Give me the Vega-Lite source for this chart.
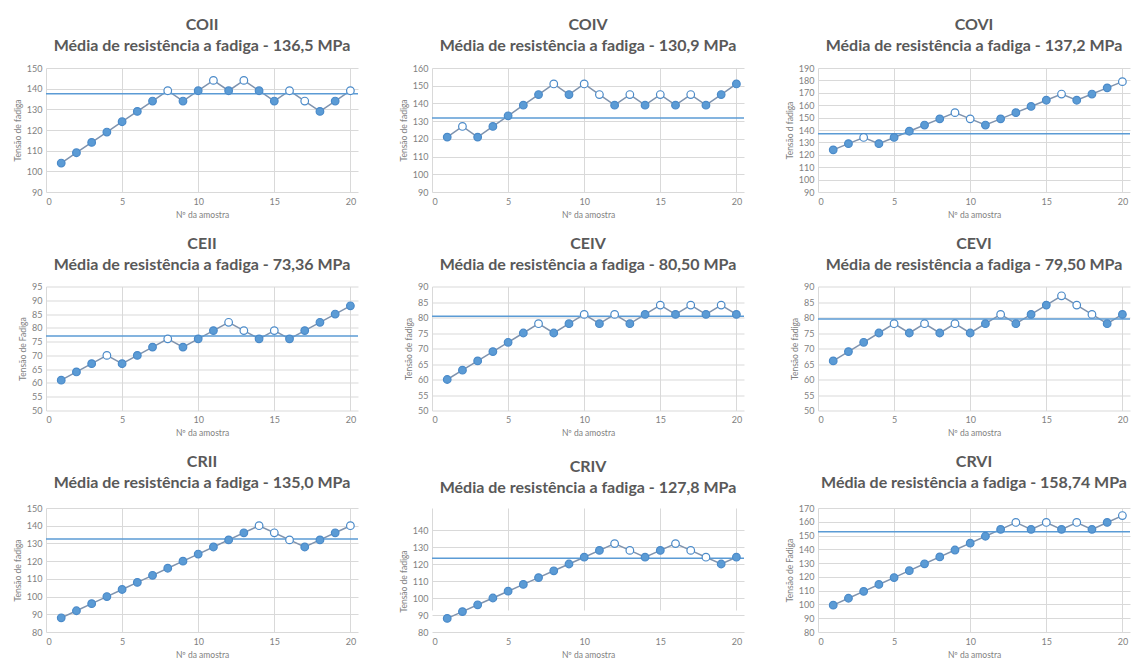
{
"$schema":"https://vega.github.io/schema/vega-lite/v6.json",
"padding":{"top":17,"left":13,"right":0,"bottom":0},
"background":"#ffffff",
"columns":3,
"spacing":{"row":16.5,"column":40},
"datasets":{
"means":[{"p":"COII","m":137.5},{"p":"COIV","m":131.8},{"p":"COVI","m":136.9},{"p":"CEII","m":77},{"p":"CEIV","m":80.4},{"p":"CEVI","m":79.5},{"p":"CRII","m":132.5},{"p":"CRIV","m":123.4},{"p":"CRVI","m":152.7}],
"pts":[
{"p":"COII","n":1,"v":104,"s":"cheio"},{"p":"COII","n":2,"v":109,"s":"cheio"},{"p":"COII","n":3,"v":114,"s":"cheio"},{"p":"COII","n":4,"v":119,"s":"cheio"},{"p":"COII","n":5,"v":124,"s":"cheio"},{"p":"COII","n":6,"v":129,"s":"cheio"},{"p":"COII","n":7,"v":134,"s":"cheio"},{"p":"COII","n":8,"v":139,"s":"vazio"},{"p":"COII","n":9,"v":134,"s":"cheio"},{"p":"COII","n":10,"v":139,"s":"cheio"},{"p":"COII","n":11,"v":144,"s":"vazio"},{"p":"COII","n":12,"v":139,"s":"cheio"},{"p":"COII","n":13,"v":144,"s":"vazio"},{"p":"COII","n":14,"v":139,"s":"cheio"},{"p":"COII","n":15,"v":134,"s":"cheio"},{"p":"COII","n":16,"v":139,"s":"vazio"},{"p":"COII","n":17,"v":134,"s":"vazio"},{"p":"COII","n":18,"v":129,"s":"cheio"},{"p":"COII","n":19,"v":134,"s":"cheio"},{"p":"COII","n":20,"v":139,"s":"vazio"},
{"p":"COIV","n":1,"v":121,"s":"cheio"},{"p":"COIV","n":2,"v":127,"s":"vazio"},{"p":"COIV","n":3,"v":121,"s":"cheio"},{"p":"COIV","n":4,"v":127,"s":"cheio"},{"p":"COIV","n":5,"v":133,"s":"cheio"},{"p":"COIV","n":6,"v":139,"s":"cheio"},{"p":"COIV","n":7,"v":145,"s":"cheio"},{"p":"COIV","n":8,"v":151,"s":"vazio"},{"p":"COIV","n":9,"v":145,"s":"cheio"},{"p":"COIV","n":10,"v":151,"s":"vazio"},{"p":"COIV","n":11,"v":145,"s":"vazio"},{"p":"COIV","n":12,"v":139,"s":"cheio"},{"p":"COIV","n":13,"v":145,"s":"vazio"},{"p":"COIV","n":14,"v":139,"s":"cheio"},{"p":"COIV","n":15,"v":145,"s":"vazio"},{"p":"COIV","n":16,"v":139,"s":"cheio"},{"p":"COIV","n":17,"v":145,"s":"vazio"},{"p":"COIV","n":18,"v":139,"s":"cheio"},{"p":"COIV","n":19,"v":145,"s":"cheio"},{"p":"COIV","n":20,"v":151,"s":"cheio"},
{"p":"COVI","n":1,"v":124,"s":"cheio"},{"p":"COVI","n":2,"v":129,"s":"cheio"},{"p":"COVI","n":3,"v":134,"s":"vazio"},{"p":"COVI","n":4,"v":129,"s":"cheio"},{"p":"COVI","n":5,"v":134,"s":"cheio"},{"p":"COVI","n":6,"v":139,"s":"cheio"},{"p":"COVI","n":7,"v":144,"s":"cheio"},{"p":"COVI","n":8,"v":149,"s":"cheio"},{"p":"COVI","n":9,"v":154,"s":"vazio"},{"p":"COVI","n":10,"v":149,"s":"vazio"},{"p":"COVI","n":11,"v":144,"s":"cheio"},{"p":"COVI","n":12,"v":149,"s":"cheio"},{"p":"COVI","n":13,"v":154,"s":"cheio"},{"p":"COVI","n":14,"v":159,"s":"cheio"},{"p":"COVI","n":15,"v":164,"s":"cheio"},{"p":"COVI","n":16,"v":169,"s":"vazio"},{"p":"COVI","n":17,"v":164,"s":"cheio"},{"p":"COVI","n":18,"v":169,"s":"cheio"},{"p":"COVI","n":19,"v":174,"s":"cheio"},{"p":"COVI","n":20,"v":179,"s":"vazio"},
{"p":"CEII","n":1,"v":61,"s":"cheio"},{"p":"CEII","n":2,"v":64,"s":"cheio"},{"p":"CEII","n":3,"v":67,"s":"cheio"},{"p":"CEII","n":4,"v":70,"s":"vazio"},{"p":"CEII","n":5,"v":67,"s":"cheio"},{"p":"CEII","n":6,"v":70,"s":"cheio"},{"p":"CEII","n":7,"v":73,"s":"cheio"},{"p":"CEII","n":8,"v":76,"s":"vazio"},{"p":"CEII","n":9,"v":73,"s":"cheio"},{"p":"CEII","n":10,"v":76,"s":"cheio"},{"p":"CEII","n":11,"v":79,"s":"cheio"},{"p":"CEII","n":12,"v":82,"s":"vazio"},{"p":"CEII","n":13,"v":79,"s":"vazio"},{"p":"CEII","n":14,"v":76,"s":"cheio"},{"p":"CEII","n":15,"v":79,"s":"vazio"},{"p":"CEII","n":16,"v":76,"s":"cheio"},{"p":"CEII","n":17,"v":79,"s":"cheio"},{"p":"CEII","n":18,"v":82,"s":"cheio"},{"p":"CEII","n":19,"v":85,"s":"cheio"},{"p":"CEII","n":20,"v":88,"s":"cheio"},
{"p":"CEIV","n":1,"v":60,"s":"cheio"},{"p":"CEIV","n":2,"v":63,"s":"cheio"},{"p":"CEIV","n":3,"v":66,"s":"cheio"},{"p":"CEIV","n":4,"v":69,"s":"cheio"},{"p":"CEIV","n":5,"v":72,"s":"cheio"},{"p":"CEIV","n":6,"v":75,"s":"cheio"},{"p":"CEIV","n":7,"v":78,"s":"vazio"},{"p":"CEIV","n":8,"v":75,"s":"cheio"},{"p":"CEIV","n":9,"v":78,"s":"cheio"},{"p":"CEIV","n":10,"v":81,"s":"vazio"},{"p":"CEIV","n":11,"v":78,"s":"cheio"},{"p":"CEIV","n":12,"v":81,"s":"vazio"},{"p":"CEIV","n":13,"v":78,"s":"cheio"},{"p":"CEIV","n":14,"v":81,"s":"cheio"},{"p":"CEIV","n":15,"v":84,"s":"vazio"},{"p":"CEIV","n":16,"v":81,"s":"cheio"},{"p":"CEIV","n":17,"v":84,"s":"vazio"},{"p":"CEIV","n":18,"v":81,"s":"cheio"},{"p":"CEIV","n":19,"v":84,"s":"vazio"},{"p":"CEIV","n":20,"v":81,"s":"cheio"},
{"p":"CEVI","n":1,"v":66,"s":"cheio"},{"p":"CEVI","n":2,"v":69,"s":"cheio"},{"p":"CEVI","n":3,"v":72,"s":"cheio"},{"p":"CEVI","n":4,"v":75,"s":"cheio"},{"p":"CEVI","n":5,"v":78,"s":"vazio"},{"p":"CEVI","n":6,"v":75,"s":"cheio"},{"p":"CEVI","n":7,"v":78,"s":"vazio"},{"p":"CEVI","n":8,"v":75,"s":"cheio"},{"p":"CEVI","n":9,"v":78,"s":"vazio"},{"p":"CEVI","n":10,"v":75,"s":"cheio"},{"p":"CEVI","n":11,"v":78,"s":"cheio"},{"p":"CEVI","n":12,"v":81,"s":"vazio"},{"p":"CEVI","n":13,"v":78,"s":"cheio"},{"p":"CEVI","n":14,"v":81,"s":"cheio"},{"p":"CEVI","n":15,"v":84,"s":"cheio"},{"p":"CEVI","n":16,"v":87,"s":"vazio"},{"p":"CEVI","n":17,"v":84,"s":"vazio"},{"p":"CEVI","n":18,"v":81,"s":"vazio"},{"p":"CEVI","n":19,"v":78,"s":"cheio"},{"p":"CEVI","n":20,"v":81,"s":"cheio"},
{"p":"CRII","n":1,"v":88,"s":"cheio"},{"p":"CRII","n":2,"v":92,"s":"cheio"},{"p":"CRII","n":3,"v":96,"s":"cheio"},{"p":"CRII","n":4,"v":100,"s":"cheio"},{"p":"CRII","n":5,"v":104,"s":"cheio"},{"p":"CRII","n":6,"v":108,"s":"cheio"},{"p":"CRII","n":7,"v":112,"s":"cheio"},{"p":"CRII","n":8,"v":116,"s":"cheio"},{"p":"CRII","n":9,"v":120,"s":"cheio"},{"p":"CRII","n":10,"v":124,"s":"cheio"},{"p":"CRII","n":11,"v":128,"s":"cheio"},{"p":"CRII","n":12,"v":132,"s":"cheio"},{"p":"CRII","n":13,"v":136,"s":"cheio"},{"p":"CRII","n":14,"v":140,"s":"vazio"},{"p":"CRII","n":15,"v":136,"s":"vazio"},{"p":"CRII","n":16,"v":132,"s":"vazio"},{"p":"CRII","n":17,"v":128,"s":"cheio"},{"p":"CRII","n":18,"v":132,"s":"cheio"},{"p":"CRII","n":19,"v":136,"s":"cheio"},{"p":"CRII","n":20,"v":140,"s":"vazio"},
{"p":"CRIV","n":1,"v":88,"s":"cheio"},{"p":"CRIV","n":2,"v":92,"s":"cheio"},{"p":"CRIV","n":3,"v":96,"s":"cheio"},{"p":"CRIV","n":4,"v":100,"s":"cheio"},{"p":"CRIV","n":5,"v":104,"s":"cheio"},{"p":"CRIV","n":6,"v":108,"s":"cheio"},{"p":"CRIV","n":7,"v":112,"s":"cheio"},{"p":"CRIV","n":8,"v":116,"s":"cheio"},{"p":"CRIV","n":9,"v":120,"s":"cheio"},{"p":"CRIV","n":10,"v":124,"s":"cheio"},{"p":"CRIV","n":11,"v":128,"s":"cheio"},{"p":"CRIV","n":12,"v":132,"s":"vazio"},{"p":"CRIV","n":13,"v":128,"s":"vazio"},{"p":"CRIV","n":14,"v":124,"s":"cheio"},{"p":"CRIV","n":15,"v":128,"s":"cheio"},{"p":"CRIV","n":16,"v":132,"s":"vazio"},{"p":"CRIV","n":17,"v":128,"s":"vazio"},{"p":"CRIV","n":18,"v":124,"s":"vazio"},{"p":"CRIV","n":19,"v":120,"s":"cheio"},{"p":"CRIV","n":20,"v":124,"s":"cheio"},
{"p":"CRVI","n":1,"v":99.5,"s":"cheio"},{"p":"CRVI","n":2,"v":104.5,"s":"cheio"},{"p":"CRVI","n":3,"v":109.5,"s":"cheio"},{"p":"CRVI","n":4,"v":114.5,"s":"cheio"},{"p":"CRVI","n":5,"v":119.5,"s":"cheio"},{"p":"CRVI","n":6,"v":124.5,"s":"cheio"},{"p":"CRVI","n":7,"v":129.5,"s":"cheio"},{"p":"CRVI","n":8,"v":134.5,"s":"cheio"},{"p":"CRVI","n":9,"v":139.5,"s":"cheio"},{"p":"CRVI","n":10,"v":144.5,"s":"cheio"},{"p":"CRVI","n":11,"v":149.5,"s":"cheio"},{"p":"CRVI","n":12,"v":154.5,"s":"cheio"},{"p":"CRVI","n":13,"v":159.5,"s":"vazio"},{"p":"CRVI","n":14,"v":154.5,"s":"cheio"},{"p":"CRVI","n":15,"v":159.5,"s":"vazio"},{"p":"CRVI","n":16,"v":154.5,"s":"cheio"},{"p":"CRVI","n":17,"v":159.5,"s":"vazio"},{"p":"CRVI","n":18,"v":154.5,"s":"cheio"},{"p":"CRVI","n":19,"v":159.5,"s":"cheio"},{"p":"CRVI","n":20,"v":164.5,"s":"vazio"}
]},
"concat":[
{"width":312,"height":124,"title":{"text":["COII","Média de resistência a fadiga - 136,5 MPa"]},
"layer":[
{"data":{"name":"pts"},"transform":[{"filter":"datum.p==='COII'"}],"mark":{"type":"line","color":"#7F93AE","strokeWidth":1.5},
"encoding":{"x":{"field":"n","type":"quantitative","scale":{"domain":[0,20.5],"nice":false},"axis":{"values":[0,5,10,15,20],"title":"Nº da amostra"}},"y":{"field":"v","type":"quantitative","scale":{"domain":[90,150],"nice":false},"axis":{"values":[90,100,110,120,130,140,150],"title":"Tensão de fadiga"}}}},
{"data":{"name":"means"},"transform":[{"filter":"datum.p==='COII'"}],"mark":{"type":"rule","color":"#5B9BD5","strokeWidth":1.5},"encoding":{"y":{"field":"m","type":"quantitative","scale":{"domain":[90,150],"nice":false},"axis":{"values":[90,100,110,120,130,140,150],"title":"Tensão de fadiga"}}}},
{"data":{"name":"pts"},"transform":[{"filter":"datum.p==='COII'"}],"mark":{"type":"point","filled":true,"size":58,"stroke":"#4A8AC9","strokeWidth":1.2,"opacity":1},
"encoding":{"x":{"field":"n","type":"quantitative","scale":{"domain":[0,20.5],"nice":false},"axis":{"values":[0,5,10,15,20],"title":"Nº da amostra"}},"y":{"field":"v","type":"quantitative","scale":{"domain":[90,150],"nice":false},"axis":{"values":[90,100,110,120,130,140,150],"title":"Tensão de fadiga"}},"color":{"field":"s","type":"nominal","scale":{"domain":["cheio","vazio"],"range":["#5B9BD5","#FFFFFF"]},"legend":null}}}
]},
{"width":312,"height":124,"title":{"text":["COIV","Média de resistência a fadiga - 130,9 MPa"]},
"layer":[
{"data":{"name":"pts"},"transform":[{"filter":"datum.p==='COIV'"}],"mark":{"type":"line","color":"#7F93AE","strokeWidth":1.5},
"encoding":{"x":{"field":"n","type":"quantitative","scale":{"domain":[0,20.5],"nice":false},"axis":{"values":[0,5,10,15,20],"title":"Nº da amostra"}},"y":{"field":"v","type":"quantitative","scale":{"domain":[90,160],"nice":false},"axis":{"values":[90,100,110,120,130,140,150,160],"title":"Tensão de fadiga"}}}},
{"data":{"name":"means"},"transform":[{"filter":"datum.p==='COIV'"}],"mark":{"type":"rule","color":"#5B9BD5","strokeWidth":1.5},"encoding":{"y":{"field":"m","type":"quantitative","scale":{"domain":[90,160],"nice":false},"axis":{"values":[90,100,110,120,130,140,150,160],"title":"Tensão de fadiga"}}}},
{"data":{"name":"pts"},"transform":[{"filter":"datum.p==='COIV'"}],"mark":{"type":"point","filled":true,"size":58,"stroke":"#4A8AC9","strokeWidth":1.2,"opacity":1},
"encoding":{"x":{"field":"n","type":"quantitative","scale":{"domain":[0,20.5],"nice":false},"axis":{"values":[0,5,10,15,20],"title":"Nº da amostra"}},"y":{"field":"v","type":"quantitative","scale":{"domain":[90,160],"nice":false},"axis":{"values":[90,100,110,120,130,140,150,160],"title":"Tensão de fadiga"}},"color":{"field":"s","type":"nominal","scale":{"domain":["cheio","vazio"],"range":["#5B9BD5","#FFFFFF"]},"legend":null}}}
]},
{"width":312,"height":124,"title":{"text":["COVI","Média de resistência a fadiga - 137,2 MPa"]},
"layer":[
{"data":{"name":"pts"},"transform":[{"filter":"datum.p==='COVI'"}],"mark":{"type":"line","color":"#7F93AE","strokeWidth":1.5},
"encoding":{"x":{"field":"n","type":"quantitative","scale":{"domain":[0,20.5],"nice":false},"axis":{"values":[0,5,10,15,20],"title":"Nº da amostra"}},"y":{"field":"v","type":"quantitative","scale":{"domain":[90,190],"nice":false},"axis":{"values":[90,100,110,120,130,140,150,160,170,180,190],"title":"Tensão d fadiga"}}}},
{"data":{"name":"means"},"transform":[{"filter":"datum.p==='COVI'"}],"mark":{"type":"rule","color":"#5B9BD5","strokeWidth":1.5},"encoding":{"y":{"field":"m","type":"quantitative","scale":{"domain":[90,190],"nice":false},"axis":{"values":[90,100,110,120,130,140,150,160,170,180,190],"title":"Tensão d fadiga"}}}},
{"data":{"name":"pts"},"transform":[{"filter":"datum.p==='COVI'"}],"mark":{"type":"point","filled":true,"size":58,"stroke":"#4A8AC9","strokeWidth":1.2,"opacity":1},
"encoding":{"x":{"field":"n","type":"quantitative","scale":{"domain":[0,20.5],"nice":false},"axis":{"values":[0,5,10,15,20],"title":"Nº da amostra"}},"y":{"field":"v","type":"quantitative","scale":{"domain":[90,190],"nice":false},"axis":{"values":[90,100,110,120,130,140,150,160,170,180,190],"title":"Tensão d fadiga"}},"color":{"field":"s","type":"nominal","scale":{"domain":["cheio","vazio"],"range":["#5B9BD5","#FFFFFF"]},"legend":null}}}
]},
{"width":312,"height":124,"title":{"text":["CEII","Média de resistência a fadiga - 73,36 MPa"]},
"layer":[
{"data":{"name":"pts"},"transform":[{"filter":"datum.p==='CEII'"}],"mark":{"type":"line","color":"#7F93AE","strokeWidth":1.5},
"encoding":{"x":{"field":"n","type":"quantitative","scale":{"domain":[0,20.5],"nice":false},"axis":{"values":[0,5,10,15,20],"title":"Nº da amostra"}},"y":{"field":"v","type":"quantitative","scale":{"domain":[50,95],"nice":false},"axis":{"values":[50,55,60,65,70,75,80,85,90,95],"title":"Tensão de Fadiga"}}}},
{"data":{"name":"means"},"transform":[{"filter":"datum.p==='CEII'"}],"mark":{"type":"rule","color":"#5B9BD5","strokeWidth":1.5},"encoding":{"y":{"field":"m","type":"quantitative","scale":{"domain":[50,95],"nice":false},"axis":{"values":[50,55,60,65,70,75,80,85,90,95],"title":"Tensão de Fadiga"}}}},
{"data":{"name":"pts"},"transform":[{"filter":"datum.p==='CEII'"}],"mark":{"type":"point","filled":true,"size":58,"stroke":"#4A8AC9","strokeWidth":1.2,"opacity":1},
"encoding":{"x":{"field":"n","type":"quantitative","scale":{"domain":[0,20.5],"nice":false},"axis":{"values":[0,5,10,15,20],"title":"Nº da amostra"}},"y":{"field":"v","type":"quantitative","scale":{"domain":[50,95],"nice":false},"axis":{"values":[50,55,60,65,70,75,80,85,90,95],"title":"Tensão de Fadiga"}},"color":{"field":"s","type":"nominal","scale":{"domain":["cheio","vazio"],"range":["#5B9BD5","#FFFFFF"]},"legend":null}}}
]},
{"width":312,"height":124,"title":{"text":["CEIV","Média de resistência a fadiga - 80,50 MPa"]},
"layer":[
{"data":{"name":"pts"},"transform":[{"filter":"datum.p==='CEIV'"}],"mark":{"type":"line","color":"#7F93AE","strokeWidth":1.5},
"encoding":{"x":{"field":"n","type":"quantitative","scale":{"domain":[0,20.5],"nice":false},"axis":{"values":[0,5,10,15,20],"title":"Nº da amostra"}},"y":{"field":"v","type":"quantitative","scale":{"domain":[50,90],"nice":false},"axis":{"values":[50,55,60,65,70,75,80,85,90],"title":"Tensão de fadiga"}}}},
{"data":{"name":"means"},"transform":[{"filter":"datum.p==='CEIV'"}],"mark":{"type":"rule","color":"#5B9BD5","strokeWidth":1.5},"encoding":{"y":{"field":"m","type":"quantitative","scale":{"domain":[50,90],"nice":false},"axis":{"values":[50,55,60,65,70,75,80,85,90],"title":"Tensão de fadiga"}}}},
{"data":{"name":"pts"},"transform":[{"filter":"datum.p==='CEIV'"}],"mark":{"type":"point","filled":true,"size":58,"stroke":"#4A8AC9","strokeWidth":1.2,"opacity":1},
"encoding":{"x":{"field":"n","type":"quantitative","scale":{"domain":[0,20.5],"nice":false},"axis":{"values":[0,5,10,15,20],"title":"Nº da amostra"}},"y":{"field":"v","type":"quantitative","scale":{"domain":[50,90],"nice":false},"axis":{"values":[50,55,60,65,70,75,80,85,90],"title":"Tensão de fadiga"}},"color":{"field":"s","type":"nominal","scale":{"domain":["cheio","vazio"],"range":["#5B9BD5","#FFFFFF"]},"legend":null}}}
]},
{"width":312,"height":124,"title":{"text":["CEVI","Média de resistência a fadiga - 79,50 MPa"]},
"layer":[
{"data":{"name":"pts"},"transform":[{"filter":"datum.p==='CEVI'"}],"mark":{"type":"line","color":"#7F93AE","strokeWidth":1.5},
"encoding":{"x":{"field":"n","type":"quantitative","scale":{"domain":[0,20.5],"nice":false},"axis":{"values":[0,5,10,15,20],"title":"Nº da amostra"}},"y":{"field":"v","type":"quantitative","scale":{"domain":[50,90],"nice":false},"axis":{"values":[50,55,60,65,70,75,80,85,90],"title":"Tensão de fadiga"}}}},
{"data":{"name":"means"},"transform":[{"filter":"datum.p==='CEVI'"}],"mark":{"type":"rule","color":"#5B9BD5","strokeWidth":1.5},"encoding":{"y":{"field":"m","type":"quantitative","scale":{"domain":[50,90],"nice":false},"axis":{"values":[50,55,60,65,70,75,80,85,90],"title":"Tensão de fadiga"}}}},
{"data":{"name":"pts"},"transform":[{"filter":"datum.p==='CEVI'"}],"mark":{"type":"point","filled":true,"size":58,"stroke":"#4A8AC9","strokeWidth":1.2,"opacity":1},
"encoding":{"x":{"field":"n","type":"quantitative","scale":{"domain":[0,20.5],"nice":false},"axis":{"values":[0,5,10,15,20],"title":"Nº da amostra"}},"y":{"field":"v","type":"quantitative","scale":{"domain":[50,90],"nice":false},"axis":{"values":[50,55,60,65,70,75,80,85,90],"title":"Tensão de fadiga"}},"color":{"field":"s","type":"nominal","scale":{"domain":["cheio","vazio"],"range":["#5B9BD5","#FFFFFF"]},"legend":null}}}
]},
{"width":312,"height":124,"title":{"text":["CRII","Média de resistência a fadiga - 135,0 MPa"],"offset":13},
"layer":[
{"data":{"name":"pts"},"transform":[{"filter":"datum.p==='CRII'"}],"mark":{"type":"line","color":"#7F93AE","strokeWidth":1.5},
"encoding":{"x":{"field":"n","type":"quantitative","scale":{"domain":[0,20.5],"nice":false},"axis":{"values":[0,5,10,15,20],"title":"Nº da amostra"}},"y":{"field":"v","type":"quantitative","scale":{"domain":[80,150],"nice":false},"axis":{"values":[80,90,100,110,120,130,140,150],"title":"Tensão de fadiga"}}}},
{"data":{"name":"means"},"transform":[{"filter":"datum.p==='CRII'"}],"mark":{"type":"rule","color":"#5B9BD5","strokeWidth":1.5},"encoding":{"y":{"field":"m","type":"quantitative","scale":{"domain":[80,150],"nice":false},"axis":{"values":[80,90,100,110,120,130,140,150],"title":"Tensão de fadiga"}}}},
{"data":{"name":"pts"},"transform":[{"filter":"datum.p==='CRII'"}],"mark":{"type":"point","filled":true,"size":58,"stroke":"#4A8AC9","strokeWidth":1.2,"opacity":1},
"encoding":{"x":{"field":"n","type":"quantitative","scale":{"domain":[0,20.5],"nice":false},"axis":{"values":[0,5,10,15,20],"title":"Nº da amostra"}},"y":{"field":"v","type":"quantitative","scale":{"domain":[80,150],"nice":false},"axis":{"values":[80,90,100,110,120,130,140,150],"title":"Tensão de fadiga"}},"color":{"field":"s","type":"nominal","scale":{"domain":["cheio","vazio"],"range":["#5B9BD5","#FFFFFF"]},"legend":null}}}
]},
{"width":312,"height":124,"title":{"text":["CRIV","Média de resistência a fadiga - 127,8 MPa"],"offset":12},
"layer":[
{"data":{"name":"pts"},"transform":[{"filter":"datum.p==='CRIV'"}],"mark":{"type":"line","color":"#7F93AE","strokeWidth":1.5},
"encoding":{"x":{"field":"n","type":"quantitative","scale":{"domain":[0,20.5],"nice":false},"axis":{"values":[0,5,10,15,20],"title":"Nº da amostra"}},"y":{"field":"v","type":"quantitative","scale":{"domain":[80,140],"nice":false,"range":[124,22]},"axis":{"values":[80,90,100,110,120,130,140],"title":"Tensão de fadiga"}}}},
{"data":{"name":"means"},"transform":[{"filter":"datum.p==='CRIV'"}],"mark":{"type":"rule","color":"#5B9BD5","strokeWidth":1.5},"encoding":{"y":{"field":"m","type":"quantitative","scale":{"domain":[80,140],"nice":false,"range":[124,22]},"axis":{"values":[80,90,100,110,120,130,140],"title":"Tensão de fadiga"}}}},
{"data":{"name":"pts"},"transform":[{"filter":"datum.p==='CRIV'"}],"mark":{"type":"point","filled":true,"size":58,"stroke":"#4A8AC9","strokeWidth":1.2,"opacity":1},
"encoding":{"x":{"field":"n","type":"quantitative","scale":{"domain":[0,20.5],"nice":false},"axis":{"values":[0,5,10,15,20],"title":"Nº da amostra"}},"y":{"field":"v","type":"quantitative","scale":{"domain":[80,140],"nice":false,"range":[124,22]},"axis":{"values":[80,90,100,110,120,130,140],"title":"Tensão de fadiga"}},"color":{"field":"s","type":"nominal","scale":{"domain":["cheio","vazio"],"range":["#5B9BD5","#FFFFFF"]},"legend":null}}}
]},
{"width":312,"height":124,"title":{"text":["CRVI","Média de resistência a fadiga - 158,74 MPa"],"offset":13},
"layer":[
{"data":{"name":"pts"},"transform":[{"filter":"datum.p==='CRVI'"}],"mark":{"type":"line","color":"#7F93AE","strokeWidth":1.5},
"encoding":{"x":{"field":"n","type":"quantitative","scale":{"domain":[0,20.5],"nice":false},"axis":{"values":[0,5,10,15,20],"title":"Nº da amostra"}},"y":{"field":"v","type":"quantitative","scale":{"domain":[80,170],"nice":false},"axis":{"values":[80,90,100,110,120,130,140,150,160,170],"title":"Tensão de Fadiga"}}}},
{"data":{"name":"means"},"transform":[{"filter":"datum.p==='CRVI'"}],"mark":{"type":"rule","color":"#5B9BD5","strokeWidth":1.5},"encoding":{"y":{"field":"m","type":"quantitative","scale":{"domain":[80,170],"nice":false},"axis":{"values":[80,90,100,110,120,130,140,150,160,170],"title":"Tensão de Fadiga"}}}},
{"data":{"name":"pts"},"transform":[{"filter":"datum.p==='CRVI'"}],"mark":{"type":"point","filled":true,"size":58,"stroke":"#4A8AC9","strokeWidth":1.2,"opacity":1},
"encoding":{"x":{"field":"n","type":"quantitative","scale":{"domain":[0,20.5],"nice":false},"axis":{"values":[0,5,10,15,20],"title":"Nº da amostra"}},"y":{"field":"v","type":"quantitative","scale":{"domain":[80,170],"nice":false},"axis":{"values":[80,90,100,110,120,130,140,150,160,170],"title":"Tensão de Fadiga"}},"color":{"field":"s","type":"nominal","scale":{"domain":["cheio","vazio"],"range":["#5B9BD5","#FFFFFF"]},"legend":null}}}
]}
],
"config":{
"view":{"stroke":null},
"axis":{"domain":false,"ticks":false,"labelOverlap":false,"gridColor":"#D9D9D9","gridWidth":1,"labelColor":"#7F7F7F","labelFont":"Lato","labelFontSize":9,"titleColor":"#7F7F7F","titleFont":"Lato","titleFontSize":8.5,"titleFontWeight":"normal"},
"axisX":{"labelPadding":5,"titlePadding":4},
"axisY":{"labelPadding":4,"titlePadding":4},
"title":{"font":"Lato","fontSize":16,"fontWeight":"bold","color":"#595959","anchor":"middle","lineHeight":21,"offset":10}
}
}
